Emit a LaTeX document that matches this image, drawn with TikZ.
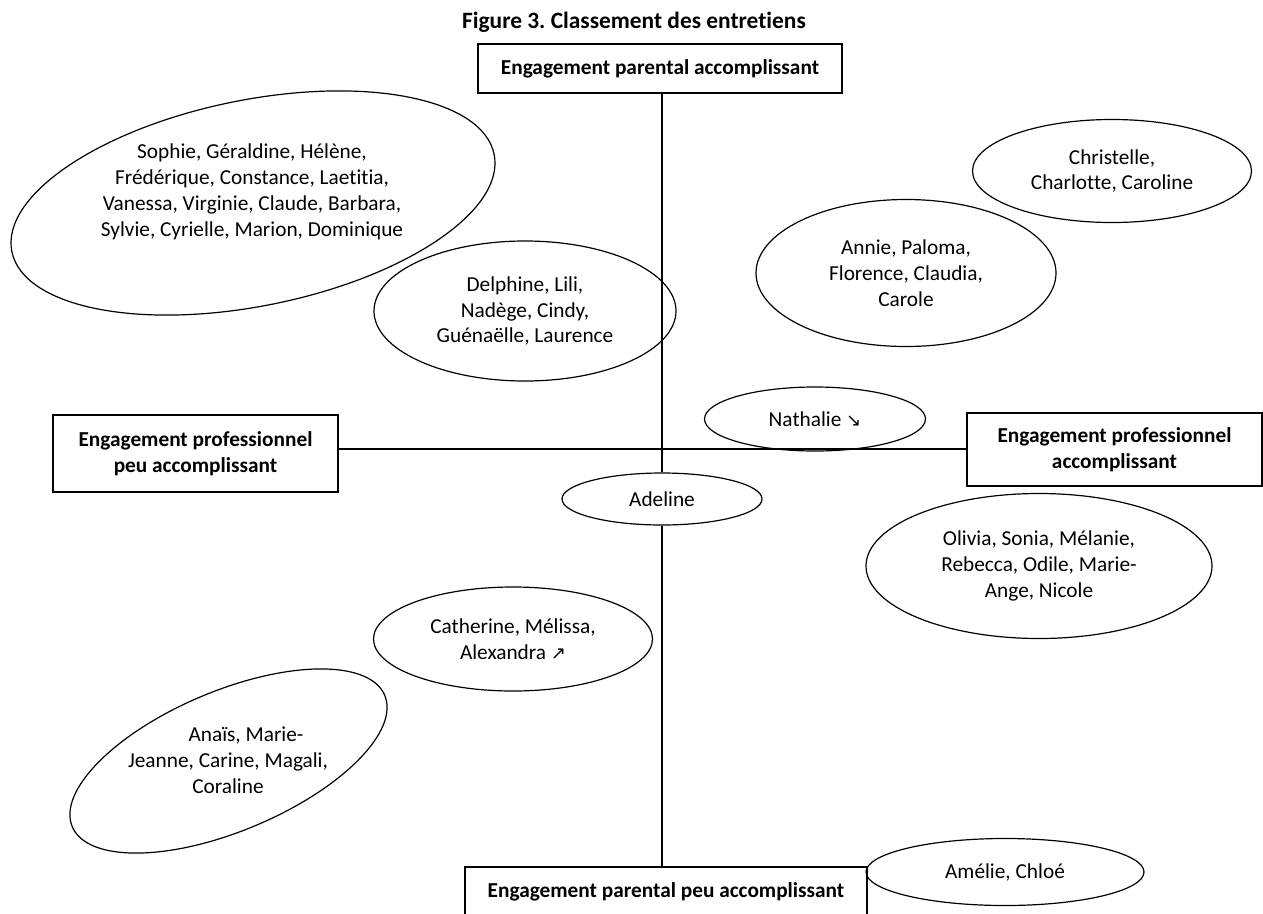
\documentclass[tikz,border=0pt]{standalone}
\usepackage{fontspec}
\setmainfont{Carlito}[Ligatures=NoCommon]
\newfontfamily\arrowfont{DejaVu Sans}
\usetikzlibrary{shapes.geometric}
\frenchspacing

\begin{document}
\begin{tikzpicture}[x=1pt, y=-1pt, thick,
                    axis box/.style={rectangle,draw,line width=1.5pt,inner sep=0pt,align=center,font=\fontsize{21.3}{25.9}\selectfont\bfseries},
                    group/.style={ellipse,draw,line width=1.2pt,inner sep=0pt,align=center,font=\fontsize{21.3}{25.9}\selectfont},
                    names/.style={align=center,font=\fontsize{21.3}{25.9}\selectfont}]

  \useasboundingbox (0,0) rectangle (1263,913);

  \node[font=\fontsize{23.4}{28}\selectfont\bfseries] (title) at (634,22) {Figure 3. Classement des entretiens};

  \node[axis box,minimum width=364,minimum height=49] (pa) at (660,68.5) {Engagement parental accomplissant};
  \node[axis box,minimum width=285,minimum height=77] (pnl) at (195.5,453.5) {Engagement professionnel\\peu accomplissant};
  \node[axis box,minimum width=295,minimum height=73] (pl) at (1114.5,449.5) {Engagement professionnel\\accomplissant};
  \node[axis box,minimum width=402,minimum height=49] (ppa) at (666,891.5) {Engagement parental peu accomplissant};

  \node[group,rotate=11.4,minimum width=492,minimum height=206] (sophie) at (253,203) {};
  \node[names] (sophie text) at (252,192) {Sophie, Géraldine, Hélène,\\Frédérique, Constance, Laetitia,\\Vanessa, Virginie, Claude, Barbara,\\Sylvie, Cyrielle, Marion, Dominique};
  \node[group,minimum width=302,minimum height=140] (delphine) at (525,311) {Delphine, Lili,\\Nadège, Cindy,\\Guénaëlle, Laurence};
  \node[group,minimum width=279,minimum height=103] (christelle) at (1112,171) {Christelle,\\Charlotte, Caroline};
  \node[group,minimum width=300,minimum height=147] (annie) at (906,273) {Annie, Paloma,\\Florence, Claudia,\\Carole};
  \node[group,minimum width=221,minimum height=64] (nathalie) at (815,419) {Nathalie {\arrowfont\fontsize{18}{22}\selectfont ↘}};
  \node[group,minimum width=200,minimum height=52] (adeline) at (662,499) {Adeline};
  \node[group,minimum width=346,minimum height=145] (olivia) at (1039,566) {Olivia, Sonia, Mélanie,\\Rebecca, Odile, Marie-\\Ange, Nicole};
  \node[group,minimum width=279,minimum height=104] (catherine) at (513,639) {Catherine, Mélissa,\\Alexandra {\arrowfont\fontsize{18}{22}\selectfont ↗}};
  \node[group,rotate=22.8,minimum width=339,minimum height=140] (anais) at (228.5,761) {};
  \node[names] (anais text) at (228,760) {\hspace*{36pt}Anaïs, Marie-\\Jeanne, Carine, Magali,\\Coraline};
  \node[group,minimum width=278,minimum height=67] (amelie) at (1005,872) {Amélie, Chloé};

  \coordinate (axis) at (662,448.5);

  \draw[line width=2pt] (adeline.north |- pa.south) -- (adeline.north);
  \draw[line width=2pt] (adeline.south) -- (adeline.south |- ppa.north);
  \draw[line width=2pt] (pnl.east |- axis) -- (pl.west |- axis);

\end{tikzpicture}
\end{document}
